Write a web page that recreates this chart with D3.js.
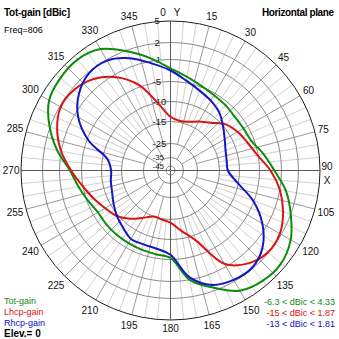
<!DOCTYPE html>
<html>
<head>
<meta charset="utf-8">
<script src="https://cdn.jsdelivr.net/npm/d3@7"></script>
<style>
  html, body { margin: 0; padding: 0; background: #fff; }
  svg { display: block; }
  text { font-family: "Liberation Sans", Arial, sans-serif; }
</style>
</head>
<body>
<svg id="chart" width="339" height="339"></svg>
<script>
// Azimuth (degrees, clockwise from Y) and gain in dBic per polarisation
const azimuth = [0, 10, 20, 30, 40, 50, 60, 70, 80, 90, 100, 110,
                 120, 130, 140, 150, 160, 170, 180, 190, 200, 210, 220, 230,
                 240, 250, 260, 270, 280, 290, 300, 310, 320, 330, 340, 350];
const totGain  = [-2.6, -3.9, -4.8, -5.5, -5.9, -6.3, -6.2, -5.7, -4.0, -2.3, 0.1, 2.0,
                   3.5, 4.3, 4.2, 3.5, 1.4, -1.0, -5.4, -6.0, -6.2, -6.3, -6.3, -6.3,
                  -6.3, -5.3, -4.2, -2.9, -0.3, 2.1, 3.7, 4.2, 4.33, 3.7, 1.8, -0.5];
const lhcpGain = [-13.8, -14.6, -14.3, -13.1, -11.7, -9.3, -7.9, -6.8, -5.2, -3.0, -1.0, 0.55,
                   1.7, 1.87, 0.8, -1.6, -8.6, -12.0, -14.2, -14.8, -15.0, -13.6, -11.5, -9.6,
                  -8.4, -6.8, -4.95, -3.1, -1.0, 0.7, 1.8, 1.6, 0.5, -1.6, -4.7, -10.4];
const rhcpGain = [-3.0, -4.6, -6.0, -7.1, -8.3, -10.1, -11.6, -12.6, -13.0, -12.9, -10.4, -5.3,
                  -1.9, 0.6, 1.81, 1.7, 0.9, -1.5, -6.2, -7.4, -7.6, -7.5, -8.7, -9.7,
                  -10.8, -11.7, -12.1, -12.4, -11.3, -5.5, -1.8, 0.5, 1.8, 1.81, 0.5, -1.4];

const ringTicks  = [-45, -35, -25, -15, -10, -5, -1, 2, 5];
const angleTicks = [0, 15, 30, 45, 60, 75, 90, 105, 120, 135, 150, 165,
                    180, 195, 210, 225, 240, 255, 270, 285, 300, 315, 330, 345];
const seriesNames  = ["Tot-gain", "Lhcp-gain", "Rhcp-gain"];
const rangeLabels  = ["-6.3 < dBic < 4.33", "-15 < dBic < 1.87", "-13 < dBic < 1.81"];
const titleText = "Tot-gain [dBic]";
const planeText = "Horizontal plane";
const freqText  = "Freq=806";
const elevText  = "Elev.= 0";

const colors = ["#0c8c0c", "#d81414", "#1414c8"];
const textColors = ["#108a10", "#e01010", "#1010c0"];

const svg = d3.select("#chart");
const cx = 170.5, cy = 170.5;

// Log-like dB scale of the polar rings
const r = d3.scaleLinear()
  .domain(ringTicks)
  .range([4.5, 13, 27, 49, 69, 89, 111, 128, 149.5])
  .clamp(true);

const g = svg.append("g").attr("transform", `translate(${cx},${cy})`);
const rad = a => a * Math.PI / 180;
const px = (a, rr) => rr * Math.sin(rad(a));
const py = (a, rr) => -rr * Math.cos(rad(a));

// Spokes: fine every 5 deg on the outer rings, coarser further in
const spokeAngles = d3.range(0, 360, 5).filter(a => a % 90 !== 0);
const spokeStart = a => a % 15 === 0 ? r(a % 30 === 0 ? -35 : -25) : r(-15);
g.selectAll("line.spoke").data(spokeAngles).join("line")
  .attr("class", "spoke")
  .attr("x1", a => px(a, spokeStart(a)))
  .attr("y1", a => py(a, spokeStart(a)))
  .attr("x2", a => px(a, r(5)))
  .attr("y2", a => py(a, r(5)))
  .attr("stroke", a => a % 15 === 0 ? "#9a9a9a" : "#d0d0d0")
  .attr("stroke-width", 1);

// Rings
g.selectAll("circle.ring").data(ringTicks).join("circle")
  .attr("class", "ring")
  .attr("r", d => r(d))
  .attr("fill", "none")
  .attr("stroke", d => d === 5 ? "#202020" : "#8a8a8a")
  .attr("stroke-width", 1);

// Main axes
[0, 90].forEach(a => {
  g.append("line")
    .attr("x1", px(a, -r(5))).attr("y1", py(a, -r(5)))
    .attr("x2", px(a, r(5))).attr("y2", py(a, r(5)))
    .attr("stroke", "#5a5a5a").attr("stroke-width", 1);
});

// Ring labels along the vertical axis (innermost ones sit close together)
g.selectAll("text.rtick").data(ringTicks).join("text")
  .attr("class", "rtick")
  .attr("x", d => d > 0 ? -16 : -18)
  .attr("y", d => -r(d))
  .attr("dy", "0.36em")
  .attr("font-size", d => d < -30 ? 8 : 9.5)
  .attr("fill", "#202020")
  .text(d => d);

// Azimuth labels
const charW = 5.6;
g.selectAll("text.atick").data(angleTicks).join("text")
  .attr("class", "atick")
  .attr("text-anchor", "middle")
  .attr("font-size", 10)
  .attr("fill", "#111")
  .each(function (a) {
    const label = String(a);
    const w = label.length * charW;
    const rr = 151 + (w / 2) * Math.abs(Math.sin(rad(a))) + 7 * Math.abs(Math.cos(rad(a)));
    let x = px(a, rr), y = py(a, rr);
    if (a === 0) x -= 7.5;
    if (a === 90) y -= 4;
    d3.select(this).attr("x", x).attr("y", y).attr("dy", "0.36em").text(label);
  });
// Axis names
g.append("text").attr("x", 6.5).attr("y", py(0, 158.5)).attr("dy", "0.36em")
  .attr("font-size", 10).attr("fill", "#111").attr("text-anchor", "middle").text("Y");
g.append("text").attr("x", px(90, 156.5)).attr("y", 9.5).attr("dy", "0.36em")
  .attr("font-size", 10).attr("fill", "#111").attr("text-anchor", "middle").text("X");

// Pattern curves
const series = [totGain, lhcpGain, rhcpGain];
const radial = d3.lineRadial()
  .angle(d => rad(d[0]))
  .radius(d => r(d[1]))
  .curve(d3.curveCatmullRomClosed.alpha(0.5));

g.selectAll("path.pattern").data(series).join("path")
  .attr("class", "pattern")
  .attr("d", vals => radial(azimuth.map((a, i) => [a, vals[i]])))
  .attr("fill", "none")
  .attr("stroke", (d, i) => colors[i])
  .attr("stroke-width", 2)
  .attr("stroke-linejoin", "round");

// Header texts
svg.append("text").attr("x", 4).attr("y", 16).attr("font-size", 10).attr("font-weight", "bold")
  .attr("fill", "#000").attr("textLength", 66).text(titleText);
svg.append("text").attr("x", 334).attr("y", 16).attr("font-size", 10).attr("font-weight", "bold")
  .attr("fill", "#000").attr("text-anchor", "end").attr("textLength", 72).text(planeText);
svg.append("text").attr("x", 4).attr("y", 33).attr("font-size", 9)
  .attr("fill", "#000").text(freqText);

// Legend (left) and value ranges (right)
const legY = [304, 315, 326];
svg.selectAll("text.leg").data(seriesNames).join("text")
  .attr("class", "leg")
  .attr("x", 4).attr("y", (d, i) => legY[i])
  .attr("font-size", 9).attr("fill", (d, i) => textColors[i])
  .text(d => d);
svg.append("text").attr("x", 4).attr("y", 337).attr("font-size", 10).attr("font-weight", "bold")
  .attr("fill", "#000").text(elevText);

svg.selectAll("text.rng").data(rangeLabels).join("text")
  .attr("class", "rng")
  .attr("x", 335).attr("y", (d, i) => legY[i] + 0.5)
  .attr("text-anchor", "end")
  .attr("font-size", 9).attr("fill", (d, i) => textColors[i])
  .text(d => d);
</script>
</body>
</html>
